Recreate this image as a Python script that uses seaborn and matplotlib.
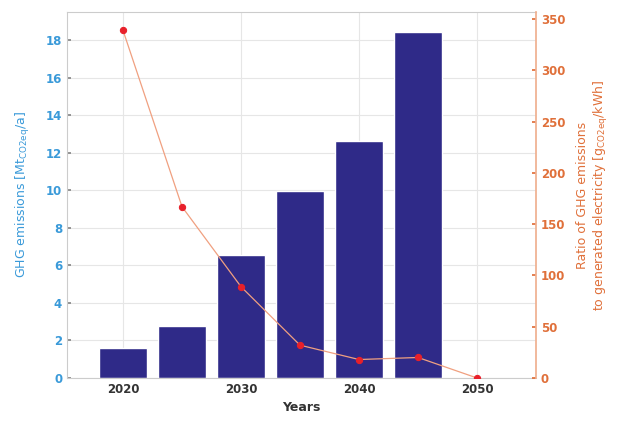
import numpy as np
import pandas as pd
import matplotlib
matplotlib.use("Agg")
import matplotlib.pyplot as plt
import seaborn as sns

years_bar = [2020, 2025, 2030, 2035, 2040, 2045]
ghg_emissions = [1.6, 2.75, 6.55, 9.95, 12.65, 18.45]
years_line = [2020, 2025, 2030, 2035, 2040, 2045, 2050]
ghg_ratio = [339, 167, 89, 32, 18, 20, 0]
x_ticks = [2020, 2030, 2040, 2050]
left_ticks = [0, 2, 4, 6, 8, 10, 12, 14, 16, 18]
right_ticks = [0, 50, 100, 150, 200, 250, 300, 350]

sns.set_theme(style="white")
plt.rcParams['font.family'] = ['DejaVu Sans']

BLUE_LABEL = "#3a9ad9"
ORANGE = "#e0703a"
BAR = "#2f2a88"

fig = plt.figure(figsize=(6.17, 4.22), dpi=100)
ax = fig.add_axes([0.1086, 0.1043, 0.7601, 0.8673])

df_bar = pd.DataFrame({"year": years_bar, "ghg": ghg_emissions})
sns.barplot(data=df_bar, x="year", y="ghg", native_scale=True, color=BAR,
            saturation=1, width=0.8, ax=ax, zorder=2)
ax.set_xlim(2015.25, 2055)
ax.set_ylim(0, 19.5)
ax.set_xticks(x_ticks)
ax.set_xticklabels([str(t) for t in x_ticks], fontsize=8.5, fontweight="bold", color="#333333")
ax.set_yticks(left_ticks)
ax.set_yticklabels([str(t) for t in left_ticks], fontsize=8.5, color=BLUE_LABEL, fontweight="bold")
ax.grid(True, color="#e6e6e6", linewidth=0.8, zorder=0)
ax.set_axisbelow(True)
ax.set_xlabel("Years", fontsize=9, fontweight="bold", color="#333333")
ax.set_ylabel(r"GHG emissions [Mt$_{\mathregular{CO2eq}}$/a]", fontsize=9, color=BLUE_LABEL, labelpad=10)
ax.tick_params(axis="both", length=3, direction="in", colors="#888888")
for lab in ax.get_yticklabels():
    lab.set_color(BLUE_LABEL)
for lab in ax.get_xticklabels():
    lab.set_color("#333333")
for s in ["left", "bottom", "top"]:
    ax.spines[s].set_color("#cccccc")
    ax.spines[s].set_linewidth(0.8)
ax.spines["right"].set_visible(False)

ax2 = ax.twinx()
df_line = pd.DataFrame({"year": years_line, "ratio": ghg_ratio})
sns.lineplot(data=df_line, x="year", y="ratio", ax=ax2, color="#f0a080",
             linewidth=0.9, marker="o", markersize=4.5, markerfacecolor="#e8202a",
             markeredgecolor="#e8202a", zorder=3)
ax2.set_ylim(0, 357)
ax2.set_yticks(right_ticks)
ax2.set_yticklabels([str(t) for t in right_ticks], fontsize=8.5, color=ORANGE, fontweight="bold")
ax2.set_ylabel("Ratio of GHG emissions\n" + r"to generated electricity [g$_{\mathregular{CO2eq}}$/kWh]",
               fontsize=9, color=ORANGE, labelpad=8)
ax2.tick_params(axis="y", length=3, direction="in", colors=ORANGE)
for lab in ax2.get_yticklabels():
    lab.set_color(ORANGE)
ax2.spines["right"].set_color("#f0b090")
for s in ["left", "bottom", "top"]:
    ax2.spines[s].set_visible(False)
ax2.set_xlim(2015.25, 2055)

fig.savefig("out.png", dpi=100, facecolor="white")
